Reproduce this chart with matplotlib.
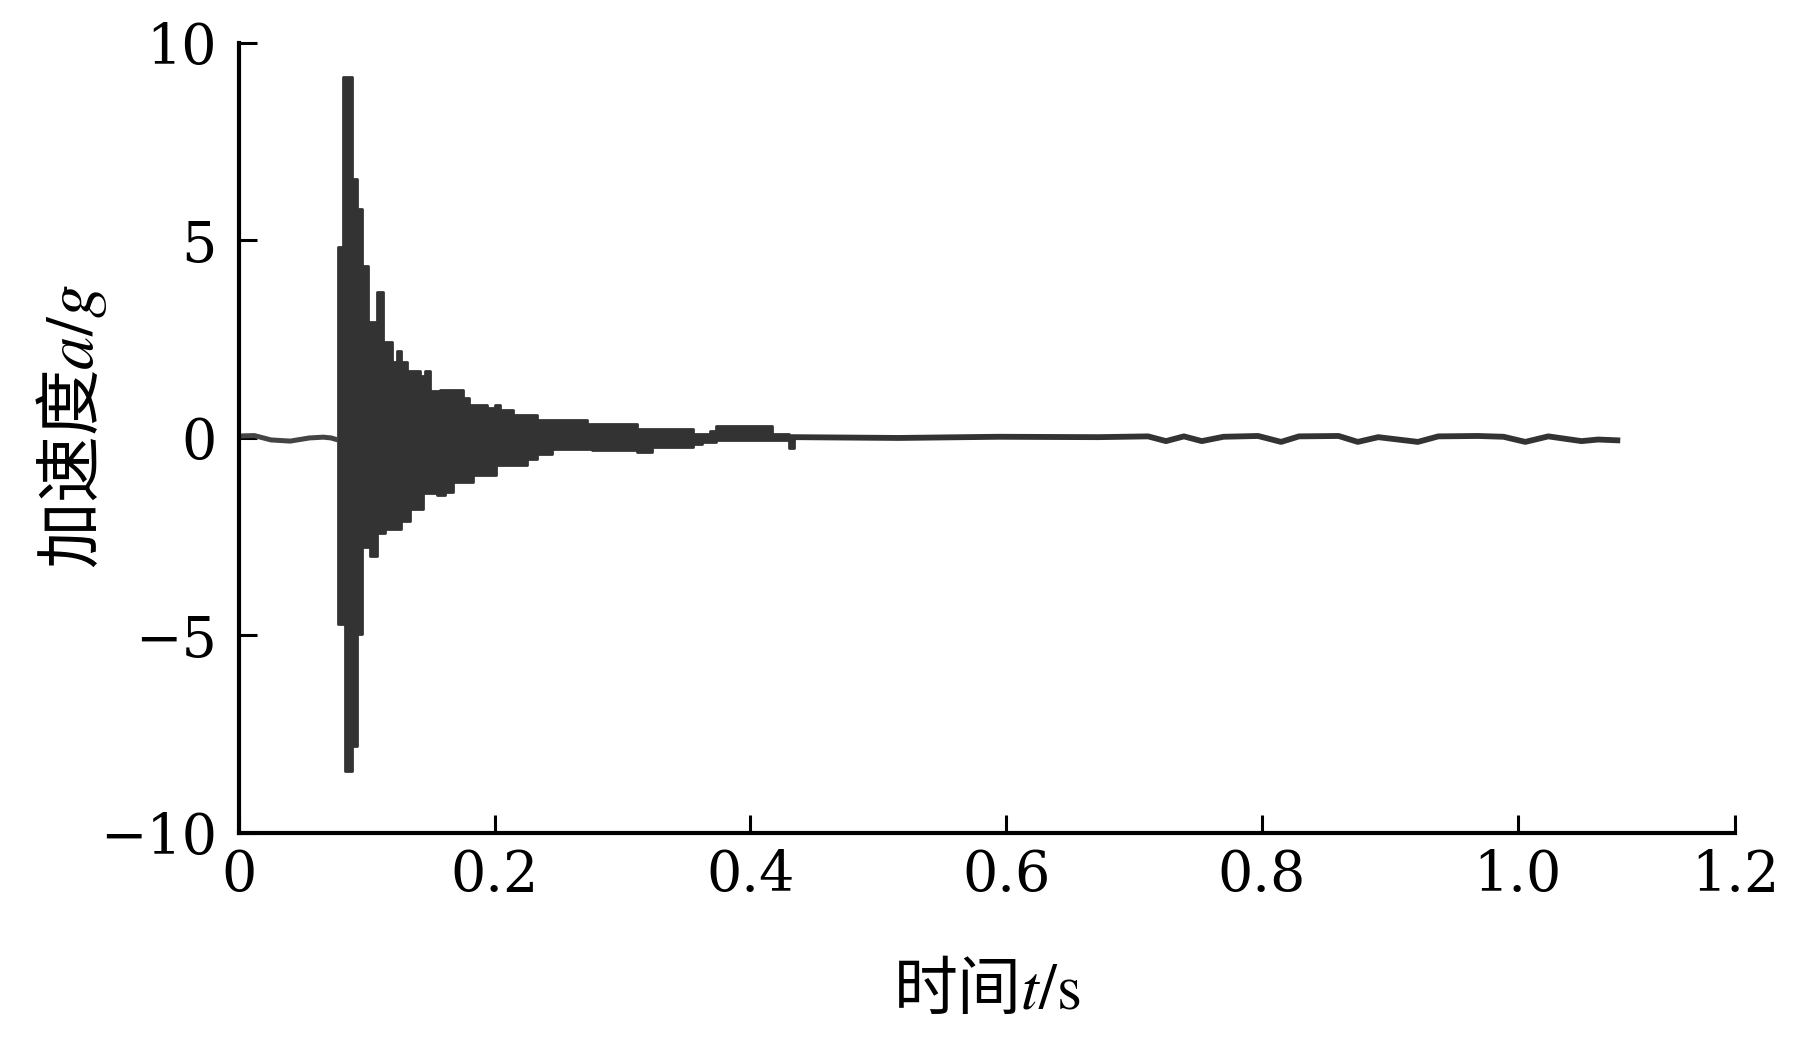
import matplotlib.pyplot as plt

plt.rcParams['font.family'] = ['Noto Sans CJK SC', 'DejaVu Sans']
plt.rcParams['mathtext.fontset'] = 'stix'

# 起振前の基線 (t, a/g)
t_pre = [0.0, 0.012, 0.025, 0.040, 0.055, 0.066, 0.072, 0.0773]
a_pre = [0.05, 0.06, -0.05, -0.08, 0.0, 0.02, 0.0, -0.05]

# 衝撃部分: 上下の包絡線 (step post)
t_env = [0.0773, 0.0812, 0.0828, 0.0882, 0.0921, 0.0961, 0.1007, 0.1023,
         0.1078, 0.1125, 0.1140, 0.1195, 0.1234, 0.1265, 0.1312, 0.1335,
         0.1413, 0.1437, 0.1452, 0.1490, 0.1546, 0.1570, 0.1610, 0.1670,
         0.1750, 0.1800, 0.1830, 0.1940, 0.2000, 0.2010, 0.2040, 0.2140,
         0.2250, 0.2330, 0.2450, 0.2720, 0.2760, 0.3110, 0.3230, 0.3550,
         0.3620, 0.3680, 0.3730, 0.4170, 0.4300, 0.4340]
a_upper = [4.83, 9.15, 9.15, 6.56, 5.8, 4.35, 2.93, 2.93,
           3.7, 2.44, 2.44, 1.93, 2.2, 1.93, 1.7, 1.7,
           1.58, 1.58, 1.7, 1.2, 1.2, 1.22, 1.22, 1.22,
           1.0, 0.84, 0.84, 0.75, 0.84, 0.84, 0.7, 0.58,
           0.58, 0.45, 0.45, 0.36, 0.36, 0.23, 0.23, 0.1,
           0.1, 0.18, 0.3, 0.1, 0.05, 0.03]
a_lower = [-4.7, -4.7, -8.42, -7.8, -4.96, -2.75, -2.75, -3.0,
           -2.4, -2.4, -2.3, -2.3, -2.3, -2.1, -2.1, -1.8,
           -1.8, -1.4, -1.4, -1.4, -1.45, -1.45, -1.37, -1.12,
           -1.12, -1.12, -0.94, -0.94, -0.94, -0.69, -0.69, -0.69,
           -0.53, -0.4, -0.28, -0.28, -0.31, -0.35, -0.23, -0.15,
           -0.1, -0.1, -0.05, -0.05, -0.25, 0.0]

# 減衰後の残留振動
t_tail = [0.434, 0.516, 0.594, 0.672, 0.711, 0.725, 0.739, 0.753, 0.770,
          0.797, 0.815, 0.829, 0.860, 0.875, 0.891, 0.922, 0.938, 0.969,
          0.989, 1.006, 1.024, 1.050, 1.063, 1.078]
a_tail = [0.02, 0.0, 0.03, 0.02, 0.04, -0.08, 0.04, -0.08, 0.03,
          0.05, -0.1, 0.04, 0.05, -0.1, 0.02, -0.1, 0.04, 0.05,
          0.03, -0.1, 0.04, -0.08, -0.04, -0.06]

x_ticks = [0, 0.2, 0.4, 0.6, 0.8, 1.0, 1.17]
x_tick_labels = ['0', '0.2', '0.4', '0.6', '0.8', '1.0', '1.2']
y_ticks = [-10, -5, 0, 5, 10]
y_tick_labels = ['\u221210', '\u22125', '0', '5', '10']

sig_color = '#333333'

fig = plt.figure(figsize=(18.19, 10.42), dpi=100)
ax = fig.add_axes([0.1314, 0.2006, 0.8224, 0.7582])

ax.plot(t_pre, a_pre, color='#444444', lw=3.6, solid_capstyle='butt')
ax.fill_between(t_env, a_lower, a_upper, step='post', color=sig_color,
                lw=2.0, edgecolor=sig_color)
ax.plot(t_tail, a_tail, color=sig_color, lw=4.2, solid_joinstyle='round')

ax.set_xlim(0, 1.17)
ax.set_ylim(-10, 10)

for side in ('top', 'right'):
    ax.spines[side].set_visible(False)
for side in ('left', 'bottom'):
    ax.spines[side].set_linewidth(3.0)
    ax.spines[side].set_capstyle('projecting')

ax.set_xticks(x_ticks)
ax.set_xticklabels(x_tick_labels)
ax.set_yticks(y_ticks)
ax.set_yticklabels(y_tick_labels)

for lab in ax.get_xticklabels() + ax.get_yticklabels():
    lab.set_fontfamily('DejaVu Serif')
    lab.set_fontsize(40)

ax.tick_params(axis='both', direction='in', length=13, width=2.2,
               color='black')
ax.tick_params(axis='x', pad=11)
ax.tick_params(axis='y', pad=16)

ax.set_xlabel('时间$t/\\mathrm{s}$', fontsize=46)
ax.xaxis.set_label_coords(0.5, -0.2)
ax.xaxis.label.set_va('center')

ax.set_ylabel('加速度$a/g$', fontsize=48)
ax.yaxis.set_label_coords(-0.112, 0.515)
ax.yaxis.label.set_va('center')

plt.savefig('out.png', dpi=100)
plt.close(fig)
